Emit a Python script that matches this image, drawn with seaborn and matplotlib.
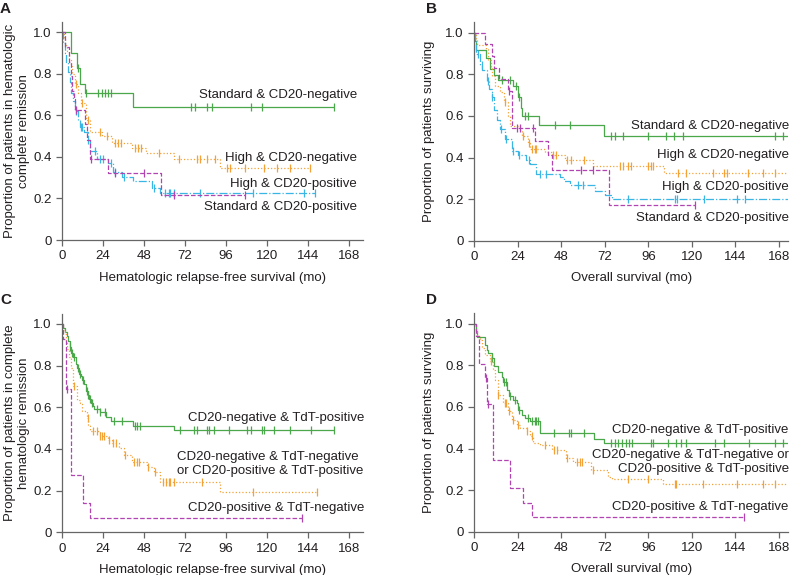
import numpy as np
import matplotlib
matplotlib.use('Agg')
import matplotlib.pyplot as plt
import seaborn as sns

sns.set_style("ticks")
plt.rcParams['font.family'] = ['Liberation Sans', 'DejaVu Sans']
plt.rcParams.update({'font.size': 9.5, 'text.color': '#231f20',
                     'axes.labelcolor': '#231f20', 'xtick.color': '#666666',
                     'ytick.color': '#666666', 'xtick.labelcolor': '#231f20',
                     'ytick.labelcolor': '#231f20'})

GREEN = '#4aa74a'
ORANGE = '#f4a136'
CYAN = '#39b6e4'
MAGENTA = '#b244b2'

# ---- Panel A: hematologic relapse-free survival by risk & CD20 ----
a_std_neg_t = [5.2, 8.5, 10.3, 13.2, 41.5]
a_std_neg_s = [0.90, 0.83, 0.75, 0.71, 0.64]
a_std_neg_c = [9.6, 14.3, 20.9, 23.4, 25.4, 27.0, 28.9, 75.6, 78.0, 85.0, 87.9,
               110.8, 117.0, 159.2]

a_high_neg_t = [1, 2, 3, 4, 5, 6, 7.5, 9.5, 11, 14, 16.5, 23.3, 29.2, 41.3, 49.1,
                65.8, 92.8]
a_high_neg_s = [0.97, 0.94, 0.91, 0.87, 0.84, 0.80, 0.75, 0.71, 0.66, 0.58, 0.52,
                0.50, 0.465, 0.445, 0.418, 0.39, 0.345]
a_high_neg_c = [8, 11.7, 15.3, 22.5, 26.2, 31, 33, 34.7, 42.9, 44.4, 46, 56.6, 68.4,
                79.1, 80.7, 85, 89.9, 96.7, 98.3, 107.4, 118.2, 126, 133.4, 145.5]

a_high_pos_t = [0.5, 1.5, 2.5, 3.5, 4.5, 5.5, 6.5, 7.5, 9.5, 10.5, 13, 15, 16.5,
                20.5, 27, 30, 35, 41.5, 53, 57.5]
a_high_pos_s = [0.95, 0.90, 0.86, 0.81, 0.76, 0.71, 0.67, 0.62, 0.58, 0.545, 0.52,
                0.48, 0.43, 0.39, 0.37, 0.33, 0.305, 0.285, 0.25, 0.225]
a_high_pos_c = [8, 11, 12, 15.2, 19.5, 22, 24, 28.5, 31, 36.5, 54, 60.6, 62.5, 63.5,
                65.4, 81, 112, 141.6, 148.5]

a_std_pos_t = [1.5, 4, 5, 6, 7, 7.8, 13.5, 14.5, 16.5, 27.2, 58]
a_std_pos_s = [0.93, 0.86, 0.79, 0.72, 0.68, 0.625, 0.56, 0.48, 0.39, 0.325, 0.216]
a_std_pos_c = [8.2, 17, 31, 47.9, 65.4, 107.4]

# ---- Panel B: overall survival by risk & CD20 ----
b_std_neg_t = [0.5, 1.2, 6.2, 8.6, 11, 13, 21.5, 24.2, 25.7, 26.1, 35.6, 71.6]
b_std_neg_s = [0.96, 0.917, 0.878, 0.825, 0.797, 0.773, 0.744, 0.69, 0.64, 0.60,
               0.556, 0.503]
b_std_neg_c = [15, 19.6, 22.8, 24.6, 27.9, 29.4, 44.4, 52.7, 75.3, 77.5, 82.1, 95.9,
               106, 110, 115, 165.6, 170.2]

b_high_neg_t = [0.8, 1.5, 6.2, 7.5, 9.2, 10, 11.4, 14, 16.5, 18.7, 19.6, 25, 26.5,
                29.7, 30.5, 38.9, 42.6, 50, 65.6, 104.7]
b_high_neg_s = [0.97, 0.94, 0.92, 0.87, 0.83, 0.79, 0.744, 0.713, 0.665, 0.60, 0.553,
                0.53, 0.505, 0.468, 0.44, 0.428, 0.41, 0.388, 0.36, 0.327]
b_high_neg_c = [17, 27, 30, 31.6, 33.4, 34.3, 43.5, 45, 51.4, 53.6, 60.6, 80.2, 82.1,
                84.8, 86.3, 95.9, 97.3, 98.6, 112.4, 117, 131.7, 137.7, 139.6, 151,
                159.2, 165.6]

b_high_pos_t = [0.3, 1.0, 3.1, 4.5, 6.8, 8, 9.5, 11, 12.5, 14.1, 16.9, 20.6, 23.9,
                28.3, 30.7, 34.3, 47.2, 49.6, 52.7, 66.5, 72, 76]
b_high_pos_s = [0.96, 0.90, 0.845, 0.82, 0.77, 0.73, 0.69, 0.63, 0.58, 0.535, 0.49,
                0.433, 0.413, 0.388, 0.37, 0.32, 0.304, 0.285, 0.267, 0.24, 0.22, 0.20]
b_high_pos_c = [1.8, 4.2, 7.5, 10, 14.8, 17.5, 21.6, 24.6, 30, 36.2, 39.8, 57.3, 60,
                84.8, 110.5, 112, 126.7, 145, 149.1]

b_std_pos_t = [5.9, 9.5, 11, 13.5, 18.5, 21, 33.4, 40.8, 42.6, 74.4]
b_std_pos_s = [0.945, 0.89, 0.83, 0.777, 0.72, 0.544, 0.477, 0.413, 0.338, 0.173]
b_std_pos_c = [19.3, 23.3, 25.2, 32.1, 59.1, 65.6, 121.6]

# ---- Panel C: hematologic relapse-free survival by CD20 & TdT ----
c_neg_pos_t = [0.8, 1.8, 2.7, 3.5, 4.5, 5.5, 6.5, 8, 9, 10, 11, 12, 13, 14, 15, 16,
               17, 18, 19, 22, 26, 29, 41.5, 65.8]
c_neg_pos_s = [0.98, 0.96, 0.94, 0.92, 0.89, 0.86, 0.84, 0.81, 0.79, 0.76, 0.75,
               0.73, 0.71, 0.68, 0.66, 0.64, 0.62, 0.605, 0.59, 0.575, 0.555, 0.535,
               0.512, 0.49]
c_neg_pos_c = [4.9, 6, 7.2, 9.2, 10.7, 12.2, 14.7, 15.3, 16.3, 17.6, 20.5, 22.5, 25.4,
               30.3, 35.2, 42.6, 44, 45.5, 69, 77.2, 79.1, 85, 86, 88.9, 97.7, 108.4,
               110.8, 117.2, 118.2, 124, 133.8, 145.9, 159.2]

c_mixed_t = [0.8, 1.5, 2.5, 3.2, 4, 5, 6.4, 8.8, 10.7, 11.7, 14.6, 15.5, 16.6, 22,
             26.8, 29.3, 33.2, 36.1, 41, 49.8, 53.7, 57.6, 92.8]
c_mixed_s = [0.97, 0.95, 0.92, 0.88, 0.84, 0.79, 0.70, 0.635, 0.62, 0.58, 0.547,
             0.515, 0.488, 0.46, 0.443, 0.427, 0.403, 0.371, 0.339, 0.315, 0.29,
             0.243, 0.192]
c_mixed_c = [7.2, 15, 18, 20.5, 22.5, 23.5, 24.5, 27.3, 30, 31.4, 37, 42, 44, 45, 50.5,
             54.5, 59, 61, 62.5, 63.5, 65.4, 82, 112, 149.4]

c_pos_neg_t = [0.8, 2.3, 5.3, 12.5, 16.2]
c_pos_neg_s = [0.93, 0.69, 0.275, 0.139, 0.069]
c_pos_neg_c = [3.2, 140.6]

# ---- Panel D: overall survival by CD20 & TdT ----
d_neg_pos_t = [0.7, 1.3, 5.9, 6.8, 7.7, 9.6, 10.8, 13.2, 15, 16, 18.2, 19.3, 21.1,
               23.3, 24.2, 26.1, 27.9, 30.7, 36.2, 66.1, 71.6]
d_neg_pos_s = [0.963, 0.934, 0.90, 0.875, 0.86, 0.835, 0.795, 0.77, 0.746, 0.72,
               0.683, 0.651, 0.635, 0.62, 0.587, 0.563, 0.547, 0.531, 0.475, 0.446,
               0.425]
d_neg_pos_c = [9.7, 16.6, 17.4, 19.7, 22.5, 24.8, 29.5, 31.6, 33.4, 34.3, 35.2, 44,
               52.3, 53.6, 60.6, 75.3, 77.5, 79.5, 81.5, 83.5, 85.5, 87, 97.7, 98.6,
               106.9, 111.5, 113.8, 117, 132.6, 138, 151.3, 165.6, 170.2]

d_mixed_t = [0.7, 1.7, 3.1, 4.2, 5.9, 8.6, 10.1, 11.4, 13.2, 16, 18.7, 20.6, 23.3,
             25, 28.8, 30.7, 32.5, 36.2, 42.6, 50.3, 54.5, 64.6, 73.8, 75.7, 104.1]
d_mixed_s = [0.97, 0.94, 0.923, 0.883, 0.851, 0.819, 0.779, 0.731, 0.659, 0.619,
             0.579, 0.539, 0.515, 0.499, 0.483, 0.459, 0.427, 0.419, 0.393, 0.353,
             0.337, 0.297, 0.265, 0.254, 0.228]
d_mixed_c = [9.2, 13.3, 16.9, 17.4, 19.3, 21.6, 24.3, 29.3, 31.7, 38.9, 44, 45.5,
             51.2, 56.4, 58.2, 59.5, 65.6, 84.8, 95.9, 110.5, 111.5, 126.1, 145,
             159.2, 165.6]

d_pos_neg_t = [0.7, 2.5, 5.9, 7, 10.5, 19.6, 27, 32]
d_pos_neg_s = [0.94, 0.805, 0.74, 0.614, 0.347, 0.211, 0.139, 0.07]
d_pos_neg_c = [6.4, 7.7, 148.7]

XTICKS = [0, 24, 48, 72, 96, 120, 144, 168]
YTICKS = [0, 0.2, 0.4, 0.6, 0.8, 1.0]
YTICKLABELS = ['0', '0.2', '0.4', '0.6', '0.8', '1.0']


def km_curve(ax, times, surv, cens, color, ls, end=None):
    t_all = [0] + list(times)
    s_all = [1.0] + list(surv)
    if end is None:
        end = max(cens)
    x = t_all + [end]
    y = s_all + [s_all[-1]]
    sns.lineplot(x=x, y=y, ax=ax, color=color, linestyle=ls, linewidth=0.9,
                 drawstyle='steps-post', estimator=None, sort=False)
    idx = np.searchsorted(t_all, cens, side='right') - 1
    cy = np.array(s_all)[idx]
    ax.plot(cens, cy, linestyle='none', marker='|', markersize=5.5,
            markeredgewidth=0.9, color=color)


def style_axes(ax, xmax, xlabel, ylabel, ylab_x, xlab_y):
    ax.set_xlim(0, xmax)
    ax.set_ylim(0, 1.05)
    ax.set_xticks(XTICKS)
    ax.set_yticks(YTICKS)
    ax.set_yticklabels(YTICKLABELS)
    sns.despine(ax=ax)
    for s in ['left', 'bottom']:
        ax.spines[s].set_color('#666666')
        ax.spines[s].set_linewidth(0.9)
    ax.tick_params(length=4, width=0.9, pad=3.5)
    ax.set_xlabel(xlabel)
    ax.set_ylabel(ylabel, linespacing=1.25)
    ax.yaxis.set_label_coords(ylab_x, 0.5)
    ax.xaxis.set_label_coords(0.5, xlab_y)


fig = plt.figure(figsize=(7.9, 5.75), dpi=100)
axA = fig.add_axes([0.0785, 0.5826, 0.381, 0.379])
axB = fig.add_axes([0.6004, 0.5814, 0.397, 0.3798])
axC = fig.add_axes([0.0785, 0.0743, 0.381, 0.3804])
axD = fig.add_axes([0.6004, 0.0753, 0.397, 0.3798])

# A
km_curve(axA, a_std_neg_t, a_std_neg_s, a_std_neg_c, GREEN, '-')
km_curve(axA, a_high_neg_t, a_high_neg_s, a_high_neg_c, ORANGE, ':')
km_curve(axA, a_high_pos_t, a_high_pos_s, a_high_pos_c, CYAN, '-.')
km_curve(axA, a_std_pos_t, a_std_pos_s, a_std_pos_c, MAGENTA, '--')
style_axes(axA, 176.4, 'Hematologic relapse-free survival (mo)',
           'Proportion of patients in hematologic\ncomplete remission', -0.106, -0.145)
axA.text(173, 0.70, 'Standard & CD20-negative', ha='right', va='center')
axA.text(173, 0.394, 'High & CD20-negative', ha='right', va='center')
axA.text(173, 0.27, 'High & CD20-positive', ha='right', va='center')
axA.text(173, 0.161, 'Standard & CD20-positive', ha='right', va='center')

# B
km_curve(axB, b_std_neg_t, b_std_neg_s, b_std_neg_c, GREEN, '-', end=173)
km_curve(axB, b_high_neg_t, b_high_neg_s, b_high_neg_c, ORANGE, ':', end=173)
km_curve(axB, b_high_pos_t, b_high_pos_s, b_high_pos_c, CYAN, '-.', end=173)
km_curve(axB, b_std_pos_t, b_std_pos_s, b_std_pos_c, MAGENTA, '--')
style_axes(axB, 173, 'Overall survival (mo)', 'Proportion of patients surviving',
           -0.125, -0.145)
axB.text(173.5, 0.551, 'Standard & CD20-negative', ha='right', va='center')
axB.text(173.5, 0.412, 'High & CD20-negative', ha='right', va='center')
axB.text(173.5, 0.26, 'High & CD20-positive', ha='right', va='center')
axB.text(173.5, 0.108, 'Standard & CD20-positive', ha='right', va='center')

# C
km_curve(axC, c_neg_pos_t, c_neg_pos_s, c_neg_pos_c, GREEN, '-')
km_curve(axC, c_mixed_t, c_mixed_s, c_mixed_c, ORANGE, ':')
km_curve(axC, c_pos_neg_t, c_pos_neg_s, c_pos_neg_c, MAGENTA, '--')
style_axes(axC, 176.4, 'Hematologic relapse-free survival (mo)',
           'Proportion of patients in complete\nhematologic remission', -0.106, -0.145)
axC.text(177, 0.547, 'CD20-negative & TdT-positive', ha='right', va='center')
axC.text(67.4, 0.328, 'CD20-negative & TdT-negative\nor CD20-positive & TdT-positive',
         ha='left', va='center', linespacing=1.2)
axC.text(177, 0.118, 'CD20-positive & TdT-negative', ha='right', va='center')

# D
km_curve(axD, d_neg_pos_t, d_neg_pos_s, d_neg_pos_c, GREEN, '-', end=173)
km_curve(axD, d_mixed_t, d_mixed_s, d_mixed_c, ORANGE, ':', end=173)
km_curve(axD, d_pos_neg_t, d_pos_neg_s, d_pos_neg_c, MAGENTA, '--')
style_axes(axD, 173, 'Overall survival (mo)', 'Proportion of patients surviving',
           -0.125, -0.145)
axD.text(173.5, 0.489, 'CD20-negative & TdT-positive', ha='right', va='center')
axD.text(173.5, 0.334, 'CD20-negative & TdT-negative or\nCD20-positive & TdT-positive',
         ha='right', va='center', multialignment='right', linespacing=1.2)
axD.text(173.5, 0.12, 'CD20-positive & TdT-negative', ha='right', va='center')

for lab, x, y in [('A', 0.0, 0.997), ('B', 0.539, 0.997), ('C', 0.0, 0.49), ('D', 0.539, 0.49)]:
    fig.text(x, y, lab, fontsize=11, fontweight='bold', ha='left', va='top')

fig.savefig('out.png', dpi=100)
